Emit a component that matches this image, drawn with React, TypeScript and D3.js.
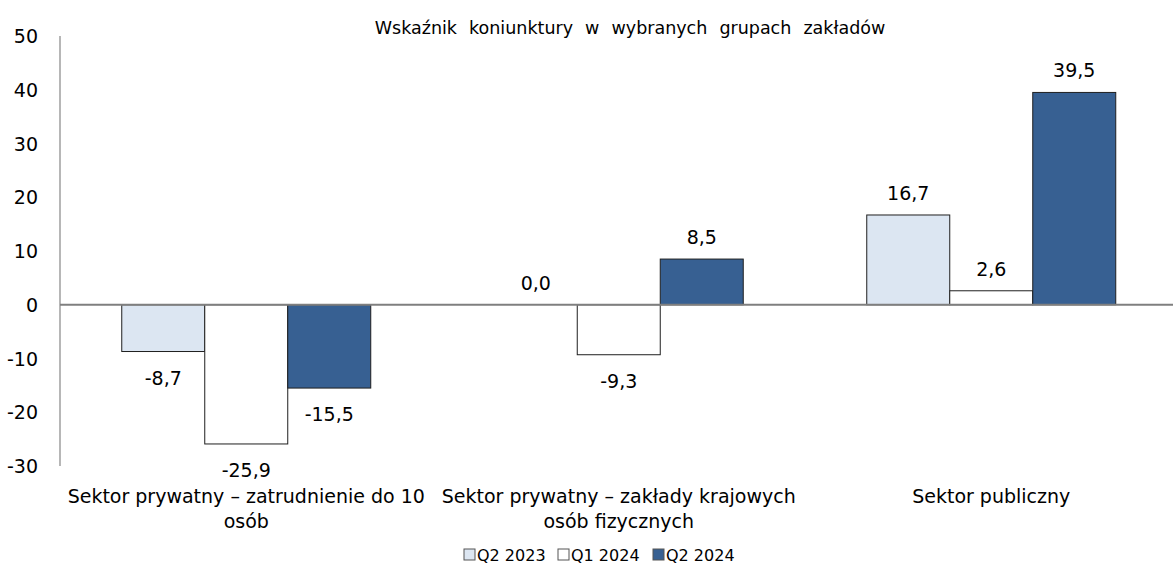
import React from "react";
import * as d3 from "d3";

const categories = [
  "Sektor prywatny – zatrudnienie do 10 osób",
  "Sektor prywatny – zakłady krajowych osób fizycznych",
  "Sektor publiczny",
];
const categoryLines = [
  ["Sektor prywatny – zatrudnienie do 10", "osób"],
  ["Sektor prywatny – zakłady krajowych", "osób fizycznych"],
  ["Sektor publiczny"],
];
const seriesNames = ["Q2 2023", "Q1 2024", "Q2 2024"];
const q2_2023 = [-8.7, 0.0, 16.7];
const q1_2024 = [-25.9, -9.3, 2.6];
const q2_2024 = [-15.5, 8.5, 39.5];
const yTicks = [-30, -20, -10, 0, 10, 20, 30, 40, 50];

const seriesValues = [q2_2023, q1_2024, q2_2024];
const colors = ["#dce6f2", "#ffffff", "#376092"];
const font = "Tahoma, 'DejaVu Sans', sans-serif";

const W = 1173;
const H = 572;
const left = 60;
const top = 36;
const bottom = 466;

const fmt = (v: number) => v.toFixed(1).replace(".", ",");

export default function App() {
  const x = d3.scaleBand<string>().domain(categories).range([left, 1177.5]).padding(0);
  const xs = d3
    .scaleBand<string>()
    .domain(seriesNames)
    .range([0, x.bandwidth()])
    .paddingInner(0)
    .paddingOuter(0.744);
  const y = d3.scaleLinear().domain([-30, 50]).range([bottom, top]);

  const legendX = [464, 558, 653];

  return (
    <svg width={W} height={H} style={{ position: "absolute", left: 0, top: 0, fontFamily: font }}>
      <rect width={W} height={H} fill="#fff" />
      <text x={630} y={34} textAnchor="middle" fontSize={17.5} wordSpacing={6.5} fill="#000">
        Wskaźnik koniunktury w wybranych grupach zakładów
      </text>

      {yTicks.map((t) => (
        <text key={t} x={38} y={y(t) + 7} textAnchor="end" fontSize={19} fill="#000">
          {t}
        </text>
      ))}
      <line x1={left} x2={left} y1={top} y2={bottom} stroke="#868686" strokeWidth={1.2} />

      {categories.map((c, ci) =>
        seriesNames.map((s, si) => {
          const v = seriesValues[si][ci];
          const bx = (x(c) ?? 0) + (xs(s) ?? 0);
          const bw = xs.bandwidth();
          const y0 = y(0);
          const yv = y(v);
          return (
            <g key={c + s}>
              {v !== 0 && (
                <rect
                  x={bx}
                  y={Math.min(y0, yv)}
                  width={bw}
                  height={Math.abs(yv - y0)}
                  fill={colors[si]}
                  stroke="#1f1f1f"
                  strokeWidth={1}
                />
              )}
              <text
                x={bx + bw / 2}
                y={v >= 0 ? yv - 15 : yv + 33}
                textAnchor="middle"
                fontSize={19}
                fill="#000"
              >
                {fmt(v)}
              </text>
            </g>
          );
        })
      )}

      <line x1={left} x2={W} y1={y(0)} y2={y(0)} stroke="#7f7f7f" strokeWidth={2} />

      {categories.map((c, ci) =>
        categoryLines[ci].map((ln, li) => (
          <text
            key={c + li}
            x={(x(c) ?? 0) + x.bandwidth() / 2}
            y={503 + li * 25}
            textAnchor="middle"
            fontSize={19}
            fill="#000"
          >
            {ln}
          </text>
        ))
      )}

      {seriesNames.map((s, si) => (
        <g key={s}>
          <rect
            x={legendX[si]}
            y={549}
            width={11}
            height={11}
            fill={colors[si]}
            stroke="#555"
            strokeWidth={1}
          />
          <text x={legendX[si] + 13} y={561} fontSize={16} fill="#000">
            {s}
          </text>
        </g>
      ))}
    </svg>
  );
}
